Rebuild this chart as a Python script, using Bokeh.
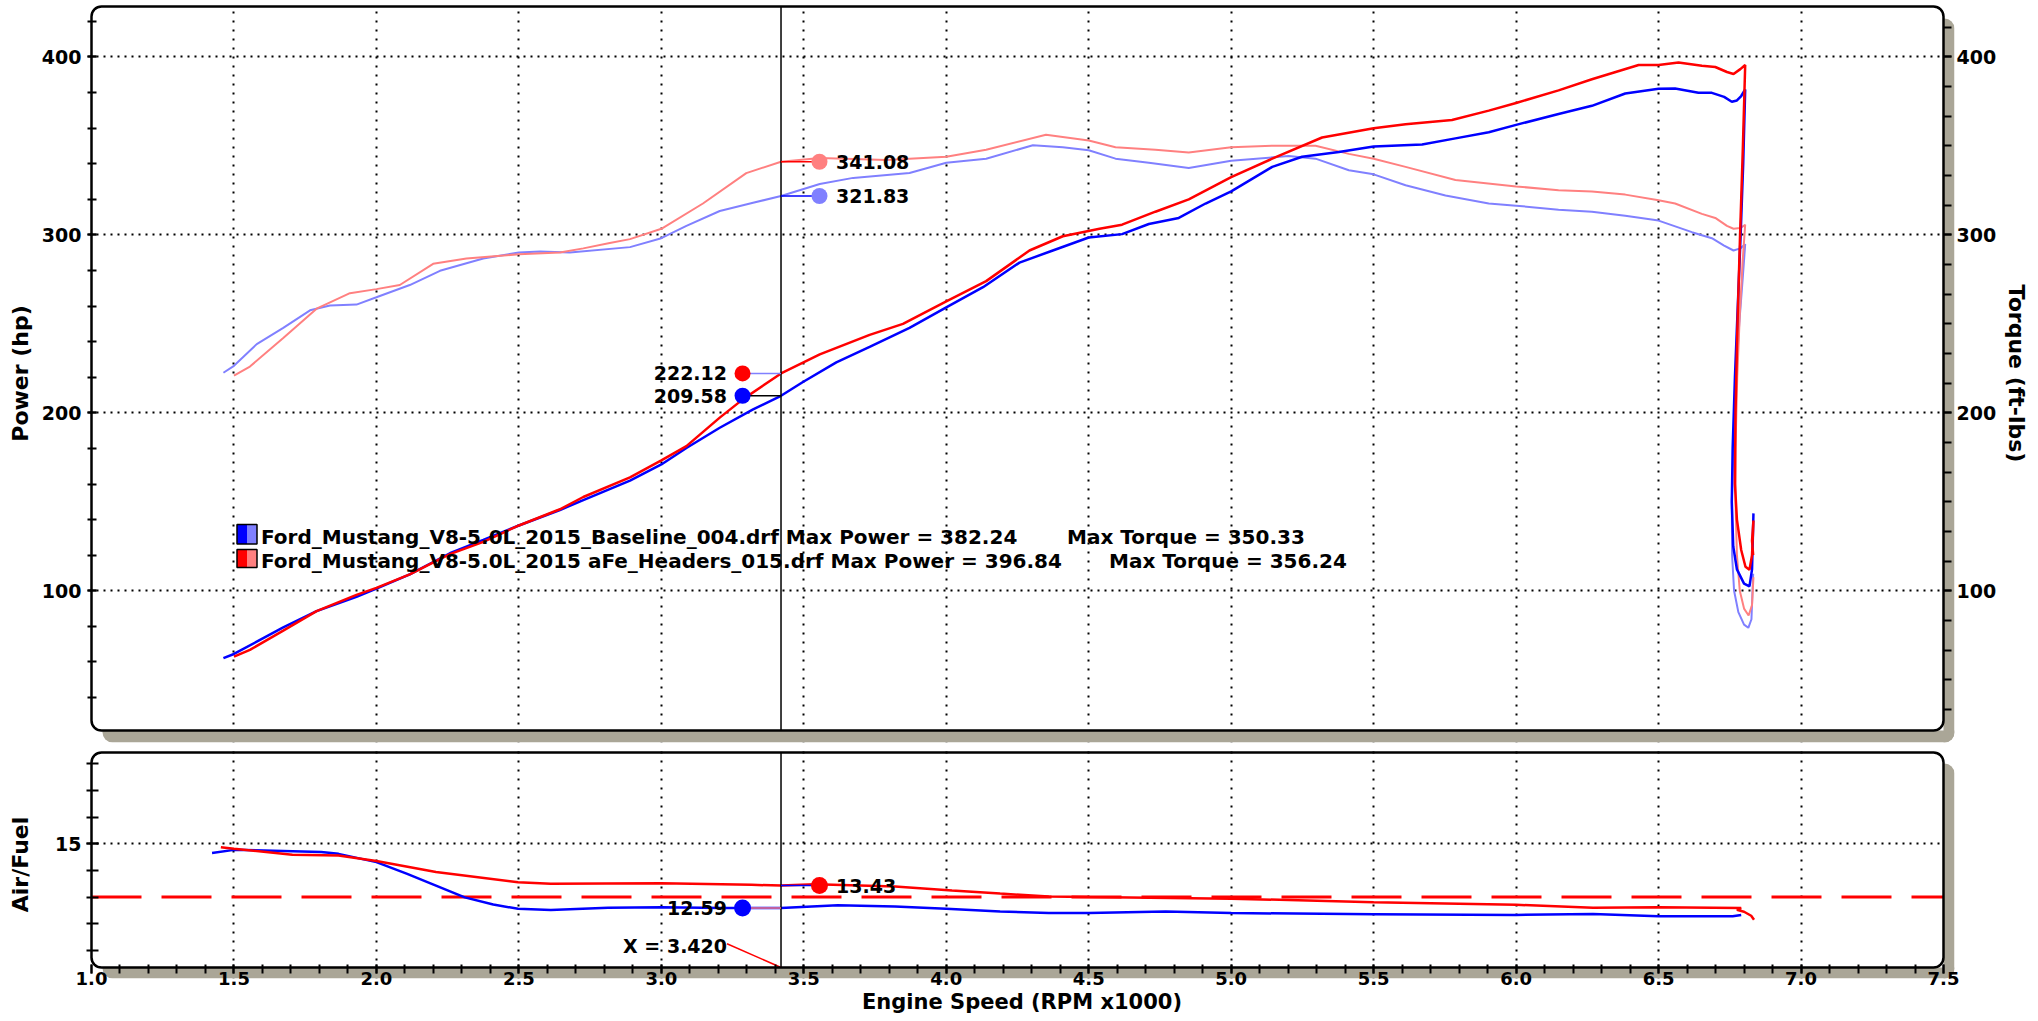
from bokeh.plotting import figure
from bokeh.layouts import column
from bokeh.models import (Range1d, LinearAxis, FixedTicker, Label, BoxAnnotation,
                          PrintfTickFormatter, CustomJSTickFormatter)
from bokeh.embed import file_html
from bokeh.resources import INLINE

# ---------------- data ----------------
rpm_hp_base = [1.463, 1.50, 1.58, 1.673, 1.79, 1.93, 2.00, 2.117, 2.258, 2.375,
               2.50, 2.644, 2.726, 2.89, 3.00, 3.088, 3.205, 3.322, 3.42, 3.497,
               3.614, 3.731, 3.871, 4.00, 4.129, 4.257, 4.374, 4.50, 4.617, 4.711,
               4.816, 4.91, 5.00, 5.144, 5.249, 5.378, 5.50, 5.67, 5.787, 5.904,
               6.00, 6.149, 6.266, 6.383, 6.50, 6.558, 6.64, 6.687, 6.73, 6.757,
               6.775, 6.79, 6.804, 6.797, 6.788, 6.778, 6.768, 6.760, 6.757, 6.762,
               6.775, 6.80, 6.819, 6.828, 6.833]
hp_base = [62.2, 64.5, 71.4, 79.4, 88.6, 96.6, 101.2, 109.2, 121.1, 128.6,
           136.7, 145.4, 150.9, 161.9, 171.0, 180.2, 191.6, 201.9, 209.58, 217.3,
           228.3, 237.0, 247.7, 259.2, 270.6, 284.4, 291.2, 298.5, 300.4, 306.1,
           309.5, 317.6, 324.4, 338.2, 343.9, 346.6, 349.6, 350.8, 354.2, 357.6,
           361.8, 367.9, 372.5, 379.4, 382.1, 382.24, 379.8, 379.8, 377.5, 374.8,
           375.5, 378.0, 381.7, 340.0, 300.0, 260.0, 220.0, 180.0, 150.0, 125.0,
           112.0, 104.0, 102.5, 112.0, 143.5]

rpm_hp_hdr = [1.50, 1.556, 1.673, 1.79, 1.93, 2.00, 2.117, 2.20, 2.258, 2.375,
              2.50, 2.644, 2.726, 2.89, 3.00, 3.088, 3.205, 3.287, 3.42, 3.556,
              3.731, 3.848, 4.00, 4.14, 4.292, 4.409, 4.538, 4.617, 4.734, 4.851,
              5.00, 5.144, 5.319, 5.50, 5.612, 5.775, 5.904, 6.00, 6.149, 6.266,
              6.43, 6.50, 6.57, 6.652, 6.699, 6.74, 6.763, 6.787, 6.804, 6.796,
              6.786, 6.777, 6.770, 6.768, 6.775, 6.79, 6.805, 6.819, 6.828, 6.833,
              6.828, 6.832]
hp_hdr = [63.0, 66.8, 77.6, 88.6, 97.7, 101.6, 109.2, 116.0, 120.6, 127.5,
          136.7, 145.8, 152.7, 163.7, 173.3, 181.3, 197.3, 207.7, 222.12, 232.8,
          243.8, 250.0, 262.6, 274.0, 291.2, 299.2, 303.4, 305.7, 313.0, 319.9,
          332.4, 342.8, 354.7, 359.9, 362.2, 364.5, 369.8, 374.1, 381.2, 387.4,
          395.4, 395.4, 396.84, 395.0, 394.3, 391.5, 390.4, 393.1, 395.4, 350.0,
          300.0, 250.0, 200.0, 160.0, 140.0, 122.9, 113.5, 111.8, 120.0, 139.5,
          128.0, 120.0]

rpm_tq_base = [1.463, 1.50, 1.58, 1.673, 1.767, 1.837, 1.93, 2.00, 2.117, 2.223,
               2.375, 2.50, 2.574, 2.679, 2.89, 3.00, 3.088, 3.205, 3.322, 3.42,
               3.556, 3.673, 3.871, 4.00, 4.14, 4.304, 4.409, 4.50, 4.594, 4.711,
               4.851, 5.00, 5.202, 5.296, 5.413, 5.50, 5.612, 5.752, 5.904, 6.00,
               6.149, 6.266, 6.383, 6.50, 6.617, 6.687, 6.73, 6.763, 6.787, 6.804,
               6.795, 6.783, 6.772, 6.763, 6.757, 6.758, 6.765, 6.78, 6.80, 6.815,
               6.826, 6.832]
tq_base = [222.5, 226.4, 238.6, 247.7, 257.6, 260.3, 260.8, 264.9, 271.8, 279.8,
           286.7, 290.1, 290.6, 290.1, 293.1, 298.1, 305.0, 313.4, 318.0, 321.83,
           328.6, 332.0, 334.7, 340.5, 342.8, 350.33, 349.2, 347.5, 342.8, 340.5,
           337.5, 341.6, 344.3, 342.8, 336.3, 334.0, 327.9, 322.1, 317.6, 316.4,
           314.1, 313.0, 310.7, 308.0, 301.5, 298.1, 294.0, 291.2, 292.4, 294.7,
           275.0, 250.0, 220.0, 180.0, 150.0, 120.0, 100.0, 88.0, 81.0, 79.2,
           84.0, 109.6]

rpm_tq_hdr = [1.50, 1.556, 1.673, 1.79, 1.907, 2.00, 2.082, 2.199, 2.316, 2.50,
              2.644, 2.726, 2.819, 2.89, 3.00, 3.146, 3.298, 3.42, 3.556, 3.79,
              4.00, 4.14, 4.35, 4.50, 4.594, 4.734, 4.851, 5.00, 5.144, 5.296,
              5.413, 5.50, 5.612, 5.787, 6.00, 6.149, 6.266, 6.383, 6.50, 6.558,
              6.652, 6.699, 6.74, 6.763, 6.787, 6.804, 6.795, 6.785, 6.776, 6.770,
              6.770, 6.775, 6.785, 6.80, 6.816, 6.828, 6.833]
tq_hdr = [220.9, 226.0, 242.0, 258.5, 267.2, 269.5, 271.8, 283.7, 286.7, 289.1,
          290.1, 292.4, 295.4, 297.6, 303.4, 317.6, 334.7, 341.08, 343.2, 342.0,
          343.9, 347.8, 356.24, 353.0, 349.2, 347.8, 346.2, 349.2, 350.1, 350.1,
          345.5, 342.8, 338.2, 330.8, 327.2, 325.1, 324.4, 322.6, 319.4, 317.6,
          311.8, 309.5, 305.0, 303.4, 303.8, 305.7, 285.0, 255.0, 220.0, 180.0,
          150.0, 120.0, 100.0, 90.0, 86.1, 92.0, 107.6]

rpm_afr_base = [1.423, 1.50, 1.605, 1.806, 1.867, 2.00, 2.108, 2.209, 2.31, 2.41,
                2.497, 2.612, 2.813, 3.00, 3.216, 3.42, 3.619, 3.82, 4.00, 4.189,
                4.36, 4.50, 4.77, 5.00, 5.50, 6.00, 6.27, 6.50, 6.76, 6.79]
afr_base = [14.65, 14.77, 14.75, 14.69, 14.62, 14.31, 13.87, 13.43, 12.99, 12.72,
            12.56, 12.52, 12.60, 12.62, 12.59, 12.59, 12.69, 12.65, 12.56, 12.46,
            12.40, 12.40, 12.46, 12.40, 12.36, 12.33, 12.37, 12.28, 12.28, 12.33]

rpm_afr_hdr = [1.454, 1.50, 1.705, 1.867, 2.00, 2.209, 2.497, 2.612, 3.00, 3.317,
               3.42, 3.54, 3.82, 4.02, 4.189, 4.36, 4.50, 5.00, 5.50, 6.00,
               6.27, 6.50, 6.79, 6.775, 6.80, 6.825, 6.835]
afr_hdr = [14.87, 14.81, 14.59, 14.56, 14.35, 13.94, 13.56, 13.50, 13.52, 13.46,
           13.43, 13.48, 13.40, 13.25, 13.13, 13.02, 13.00, 12.94, 12.81, 12.71,
           12.60, 12.62, 12.59, 12.52, 12.45, 12.30, 12.15]

cursor_rpm = 3.42
cursor_hp = [209.58, 222.12]      # baseline, headers
cursor_tq = [321.83, 341.08]
cursor_afr = [12.59, 13.43]
afr_target = 13.0

run_names = ["Ford_Mustang_V8-5.0L_2015_Baseline_004.drf",
             "Ford_Mustang_V8-5.0L_2015 aFe_Headers_015.drf"]
max_power = [382.24, 396.84]
max_torque = [350.33, 356.24]

x_ticks = [1.0, 1.5, 2.0, 2.5, 3.0, 3.5, 4.0, 4.5, 5.0, 5.5, 6.0, 6.5, 7.0, 7.5]
power_ticks = [100, 200, 300, 400]
torque_ticks = [100, 200, 300, 400]
afr_ticks = [15]

# ---------------- layout / styling ----------------
FONT = "DejaVu Sans"
BLUE, RED, LBLUE, LRED = "#0000ff", "#ff0000", "#8080ff", "#ff8080"
SHADOW = "#aaa697"
X_VIS = (1.0, 7.5)
P_VIS = (21.5, 428.3)
A_VIS = (10.36, 18.42)
W = 2036
VIS_L, VIS_R = 91, 1943           # visible frame, page pixels
PAD_L, PAD_T, SH_R = 2, 2, 11
UX = (X_VIS[1] - X_VIS[0]) / (VIS_R - VIS_L)
X_RANGE = (X_VIS[0] - PAD_L * UX, X_VIS[1] + SH_R * UX)
MB_L = VIS_L - PAD_L
MB_R = W - (VIS_R + SH_R)

TOP1, BOT1, SH_B1 = 6, 730, 12    # top panel visible frame (page px)
TOP2, BOT2, SH_B2 = 752, 967, 11  # air/fuel panel visible frame
H1 = 746
H2 = 1020 - H1
BLANK = CustomJSTickFormatter(code="return ''")


def rx(px):
    return 1.0 + (px - 91.5) / 284.92


def ry(py):
    return 400 - (py - 56.3) / 1.78


def ra(py):
    return 15 - (py - 843.3) / 26.67


def yrange(vis, top, bot, sh_b):
    uy = (vis[1] - vis[0]) / (bot - top)
    return uy, (vis[0] - sh_b * uy, vis[1] + PAD_T * uy)


def style_axis(ax, tick_in=0, tick_out=0, tick_size="19px", label_size="22px",
               standoff=0, label_standoff=0):
    ax.axis_line_color = None
    for pre in ("major", "minor"):
        setattr(ax, pre + "_tick_line_color", "black" if (tick_in or tick_out) else None)
        setattr(ax, pre + "_tick_line_width", 2)
        setattr(ax, pre + "_tick_in", tick_in)
        setattr(ax, pre + "_tick_out", tick_out)
    ax.major_label_text_font = FONT
    ax.major_label_text_font_style = "bold"
    ax.major_label_text_font_size = tick_size
    ax.major_label_text_color = "black"
    ax.major_label_standoff = standoff
    ax.axis_label_text_font = FONT
    ax.axis_label_text_font_style = "bold"
    ax.axis_label_text_font_size = label_size
    ax.axis_label_text_color = "black"
    ax.axis_label_standoff = label_standoff
    ax.level = "annotation"


def tick_axis(fig, side, loc, ticker, tick_in, tick_out, y_range_name="default"):
    ax = LinearAxis(ticker=ticker, fixed_location=loc, formatter=BLANK,
                    y_range_name=y_range_name)
    style_axis(ax, tick_in, tick_out)
    fig.add_layout(ax, side)


def add_frame(fig, yvis, uy, sh_b, r=10):
    x0, x1 = X_VIS
    y0, y1 = yvis
    dx = SH_R * UX
    dy = sh_b * uy
    fig.add_layout(BoxAnnotation(left=x1, right=x1 + dx, top=y1 - dy, bottom=y0 - dy,
                                 fill_color=SHADOW, fill_alpha=1, line_color=None,
                                 border_radius=(0, r, r, 0), level="guide"))
    fig.add_layout(BoxAnnotation(left=x0 + dx, right=x1 + dx, top=y0, bottom=y0 - dy,
                                 fill_color=SHADOW, fill_alpha=1, line_color=None,
                                 border_radius=(0, 0, r, r), level="guide"))
    fig.add_layout(BoxAnnotation(left=x0, right=x1, top=y1, bottom=y0,
                                 fill_color=None, fill_alpha=0, line_color="black",
                                 line_alpha=1, line_dash="solid", line_width=2.5,
                                 border_radius=r, level="annotation"))


def grid_style(fig, xt, yt):
    fig.xgrid.ticker = FixedTicker(ticks=xt)
    fig.ygrid.ticker = FixedTicker(ticks=yt)
    fig.xgrid.grid_line_color = "black"
    fig.xgrid.grid_line_width = 2
    fig.xgrid.grid_line_dash = "2 7"
    fig.ygrid.grid_line_color = "black"
    fig.ygrid.grid_line_width = 2
    fig.ygrid.grid_line_dash = "2 5"


def text(fig, x, y, s, align, size="19px", y_range_name="default"):
    fig.add_layout(Label(x=x, y=y, text=s, text_font=FONT, text_font_style="bold",
                         text_font_size=size, text_color="black", text_align=align,
                         text_baseline="middle", y_range_name=y_range_name))


# ---------------- top panel: power / torque ----------------
uy1, P_RANGE = yrange(P_VIS, TOP1, BOT1, SH_B1)
p = figure(width=W, height=H1, x_range=Range1d(*X_RANGE), y_range=Range1d(*P_RANGE),
           output_backend="svg", toolbar_location=None, x_axis_location=None,
           y_axis_location="left", min_border_left=MB_L, min_border_right=MB_R,
           min_border_top=TOP1 - PAD_T, min_border_bottom=H1 - (BOT1 + SH_B1))
p.extra_y_ranges = {"tq": Range1d(*P_RANGE)}
p.outline_line_color = None
p.background_fill_color = "white"
p.border_fill_color = "white"

p.yaxis.ticker = FixedTicker(ticks=power_ticks, minor_ticks=list(range(40, 430, 20)))
p.yaxis.axis_label = "Power (hp)"
style_axis(p.yaxis[0], 7, 2, "19px", "22px", 6, 6)

tq_ticker = FixedTicker(ticks=torque_ticks,
                        minor_ticks=[v / 6 for v in range(200, 2600, 100)])
tq_axis = LinearAxis(y_range_name="tq", axis_label="Torque (ft-lbs)", ticker=tq_ticker)
style_axis(tq_axis, 0, 0, "19px", "22px", 2, 5)
p.add_layout(tq_axis, "right")
tick_axis(p, "right", X_VIS[1], tq_ticker, 0, 8, y_range_name="tq")

grid_style(p, x_ticks[1:-1], power_ticks)
add_frame(p, P_VIS, uy1, SH_B1)

p.line(rpm_tq_base, tq_base, y_range_name="tq", line_color=LBLUE, line_width=2)
p.line(rpm_tq_hdr, tq_hdr, y_range_name="tq", line_color=LRED, line_width=2)
p.line(rpm_hp_base, hp_base, line_color=BLUE, line_width=2.5)
p.line(rpm_hp_hdr, hp_hdr, line_color=RED, line_width=2.5)

p.segment(x0=[cursor_rpm], y0=[P_VIS[0]], x1=[cursor_rpm], y1=[P_VIS[1]],
          line_color="black", line_width=1.5)

off = 0.135
xl, xr_ = cursor_rpm - off, cursor_rpm + off
p.segment(x0=[xl, xl], y0=cursor_hp, x1=[cursor_rpm] * 2, y1=cursor_hp,
          line_color=["black", LBLUE], line_width=1.5)
p.segment(x0=[cursor_rpm] * 2, y0=cursor_tq, x1=[xr_, xr_], y1=cursor_tq,
          y_range_name="tq", line_color=[BLUE, RED], line_width=1.5)
p.scatter([xl, xl], cursor_hp, size=16, fill_color=[BLUE, RED], line_color=None)
p.scatter([xr_, xr_], cursor_tq, y_range_name="tq", size=16,
          fill_color=[LBLUE, LRED], line_color=None)
for v in cursor_hp:
    text(p, rx(727), v, f"{v:.2f}", "right")
for v in cursor_tq:
    text(p, rx(836), v, f"{v:.2f}", "left", y_range_name="tq")

# legend
sw_rows = [(ry(543.5), ry(524), ry(536.5), rx(1067)),
           (ry(567), ry(549), ry(561), rx(1109))]
sw_cols = [(BLUE, LBLUE), (RED, LRED)]
for i, (yb, yt, yc, xmt) in enumerate(sw_rows):
    c_dark, c_light = sw_cols[i]
    p.quad(left=[rx(237), rx(247)], right=[rx(247), rx(257)], bottom=[yb, yb], top=[yt, yt],
           fill_color=[c_dark, c_light], line_color=None)
    p.quad(left=[rx(237)], right=[rx(257)], bottom=[yb], top=[yt],
           fill_color=None, line_color="black", line_width=1.5)
    text(p, rx(261), yc, f"{run_names[i]} Max Power = {max_power[i]:.2f}", "left", size="20px")
    text(p, xmt, yc, f"Max Torque = {max_torque[i]:.2f}", "left", size="20px")

# ---------------- bottom panel: air / fuel ----------------
uy2, A_RANGE = yrange(A_VIS, TOP2, BOT2, SH_B2)
q = figure(width=W, height=H2, x_range=p.x_range, y_range=Range1d(*A_RANGE),
           output_backend="svg", toolbar_location=None,
           min_border_left=MB_L, min_border_right=MB_R,
           min_border_top=TOP2 - PAD_T - H1, min_border_bottom=(H1 + H2) - (BOT2 + SH_B2))
q.outline_line_color = None
q.background_fill_color = "white"
q.border_fill_color = "white"

x_ticker = FixedTicker(ticks=x_ticks, minor_ticks=[v / 10 for v in range(10, 76)])
q.xaxis.ticker = x_ticker
q.xaxis.formatter = PrintfTickFormatter(format="%.1f")
q.xaxis.axis_label = "Engine Speed (RPM x1000)"
style_axis(q.xaxis[0], 0, 0, "18px", "21px", -7, 2)
tick_axis(q, "below", A_VIS[0], x_ticker, 3, 6)

q.yaxis.ticker = FixedTicker(ticks=afr_ticks, minor_ticks=list(range(11, 19)))
q.yaxis.axis_label = "Air/Fuel"
style_axis(q.yaxis[0], 9, 3, "19px", "22px", 5, 19)

grid_style(q, x_ticks[1:-1], afr_ticks)
add_frame(q, A_VIS, uy2, SH_B2)

q.segment(x0=[X_VIS[0]], y0=[afr_target], x1=[X_VIS[1]], y1=[afr_target],
          line_color=RED, line_width=3, line_dash="50 20")
q.line(rpm_afr_base, afr_base, line_color=BLUE, line_width=2.5)
q.line(rpm_afr_hdr, afr_hdr, line_color=RED, line_width=2.5)
q.segment(x0=[cursor_rpm], y0=[A_VIS[0]], x1=[cursor_rpm], y1=[A_VIS[1]],
          line_color="black", line_width=1.5)

q.segment(x0=[xl], y0=[cursor_afr[0]], x1=[cursor_rpm], y1=[cursor_afr[0]],
          line_color=LRED, line_width=1.5)
q.segment(x0=[cursor_rpm], y0=[cursor_afr[1]], x1=[xr_], y1=[cursor_afr[1]],
          line_color=BLUE, line_width=1.5)
q.scatter([xl, xr_], cursor_afr, size=17, fill_color=[BLUE, RED], line_color=None)
text(q, rx(727), cursor_afr[0], f"{cursor_afr[0]:.2f}", "right")
text(q, rx(836), cursor_afr[1], f"{cursor_afr[1]:.2f}", "left")

q.segment(x0=[rx(727)], y0=[ra(943.3)], x1=[cursor_rpm], y1=[A_VIS[0]],
          line_color=RED, line_width=1.5)
text(q, rx(727), ra(946), f"X = {cursor_rpm:.3f}", "right")

layout = column(p, q, spacing=0)
open("out.html", "w").write(file_html(layout, INLINE))
